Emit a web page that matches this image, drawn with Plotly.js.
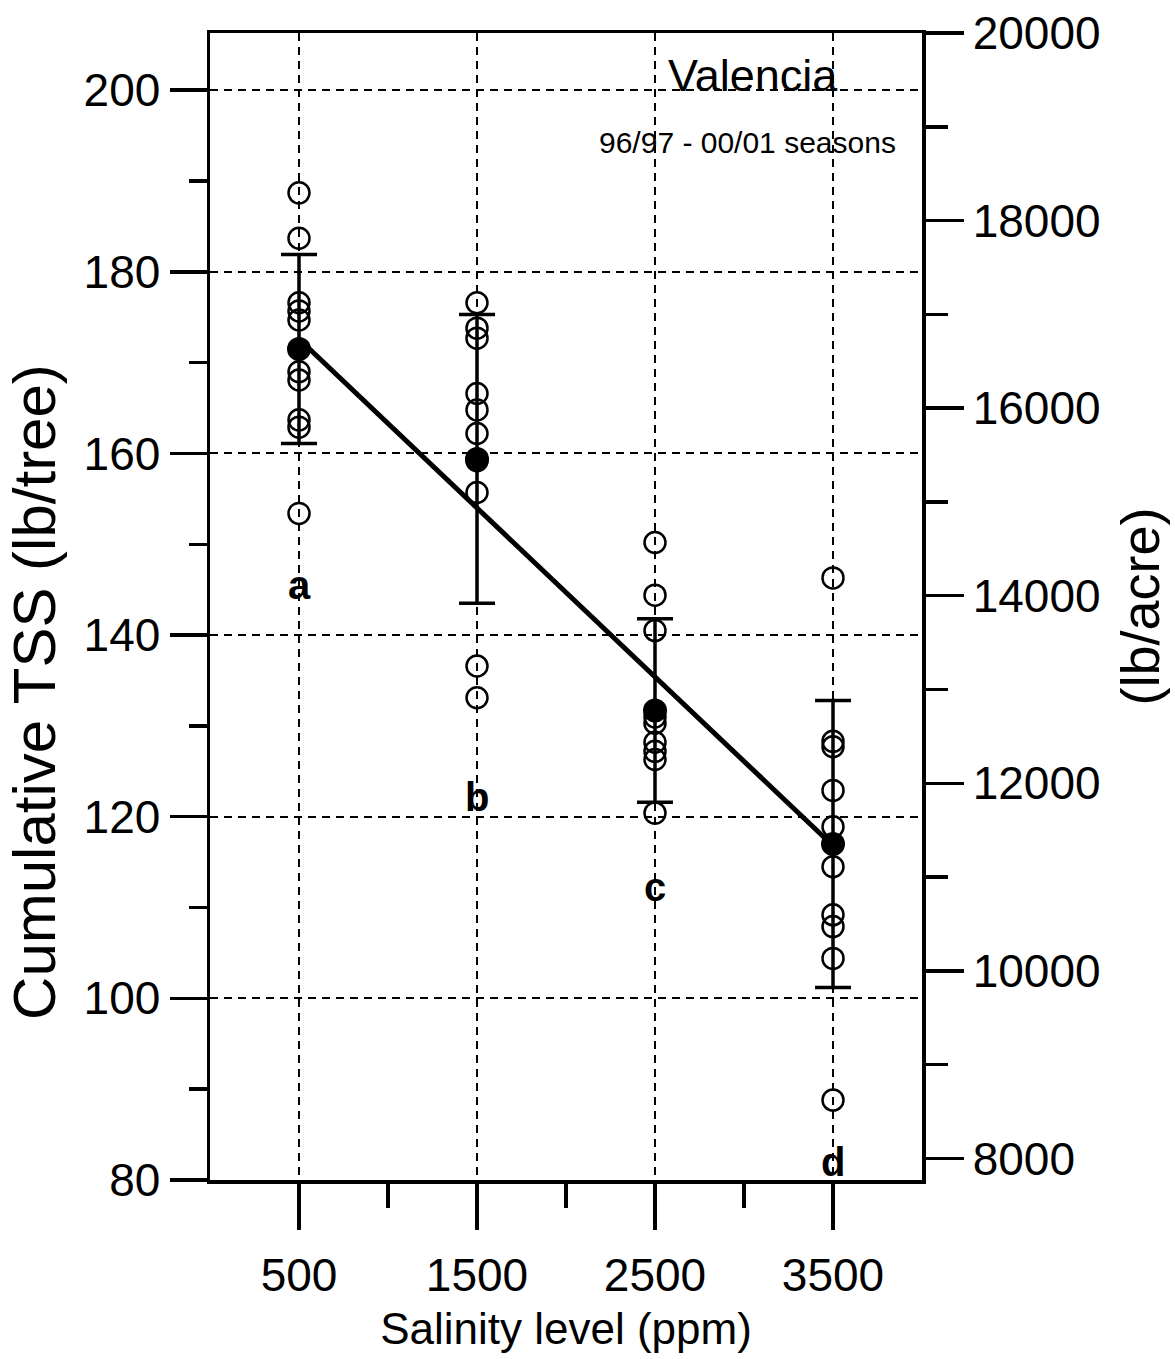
<!DOCTYPE html>
<html>
<head>
<meta charset="utf-8">
<script src="https://cdn.plot.ly/plotly-3.0.1.min.js"></script>
<style>html,body{margin:0;padding:0;background:#fff;}#chart{width:1175px;height:1359px;}</style>
</head>
<body>
<div id="chart"></div>
<script>
// Salinity levels (ppm)
const salinity = [500, 1500, 2500, 3500];
// Individual observations, cumulative TSS (lb/tree)
const obs500  = [188.7, 183.7, 176.6, 175.7, 174.7, 169.0, 168.1, 163.7, 162.9, 153.4];
const obs1500 = [176.6, 173.8, 172.7, 166.6, 164.8, 162.2, 159.2, 155.7, 136.6, 133.1];
const obs2500 = [150.2, 144.4, 140.5, 131.0, 130.3, 128.2, 127.2, 126.3, 120.4];
const obs3500 = [146.3, 128.3, 127.7, 122.9, 118.9, 114.5, 109.2, 107.9, 104.4, 88.8];
// Means and standard deviations
const means = [171.5, 159.4, 131.7, 117.0];
const sds   = [10.4, 15.9, 10.1, 15.8];
// Regression line end points
const lineX = [500, 3500];
const lineY = [172.6, 116.8];
// Significance letters
const letters = ['a', 'b', 'c', 'd'];
const letterY = [145.5, 122.2, 112.3, 82.0];
// Tick values
const xTicks = [500, 1500, 2500, 3500];
const xMinor = [1000, 2000, 3000];
const yTicks = [80, 100, 120, 140, 160, 180, 200];
const yMinor = [90, 110, 130, 150, 170, 190];
const y2Ticks = [8000, 10000, 12000, 14000, 16000, 18000, 20000];
const y2Minor = [9000, 11000, 13000, 15000, 17000, 19000];

const allObs = [obs500, obs1500, obs2500, obs3500];
const obsX = [], obsY = [];
allObs.forEach((arr, i) => arr.forEach(v => { obsX.push(salinity[i]); obsY.push(v); }));

const FONT = 'Liberation Sans, Arial, sans-serif';

const traces = [
  {
    x: obsX, y: obsY, type: 'scatter', mode: 'markers',
    marker: {symbol: 'circle-open', size: 21, color: '#000', line: {width: 2.5, color: '#000'}},
    hoverinfo: 'x+y', showlegend: false
  },
  {
    x: lineX, y: lineY, type: 'scatter', mode: 'lines',
    line: {color: '#000', width: 5}, showlegend: false
  },
  {
    x: salinity, y: means, type: 'scatter', mode: 'markers',
    marker: {symbol: 'circle', size: 24, color: '#000'},
    error_y: {type: 'data', array: sds, visible: true, color: '#000', thickness: 3.5, width: 18},
    showlegend: false
  },
  {
    // invisible trace on the right axis so it is drawn
    x: [salinity[0]], y: [8000], yaxis: 'y2', type: 'scatter', mode: 'markers',
    marker: {opacity: 0}, hoverinfo: 'skip', showlegend: false
  }
];

const annotations = letters.map((t, i) => ({
  x: salinity[i], y: letterY[i], xref: 'x', yref: 'y', text: t, showarrow: false,
  font: {family: FONT, size: 40, color: '#000', weight: 'bold'}
}));
annotations.push({
  x: 3051, y: 201.6, xref: 'x', yref: 'y', text: 'Valencia', showarrow: false,
  font: {family: FONT, size: 45, color: '#000'}
});
annotations.push({
  x: 3022, y: 194.2, xref: 'x', yref: 'y', text: '96/97 - 00/01 seasons', showarrow: false,
  font: {family: FONT, size: 30, color: '#000'}
});
// Left axis title placed explicitly to match the reference position
annotations.push({
  x: -0.2458, y: 0.4255, xref: 'paper', yref: 'paper', xanchor: 'center', yanchor: 'middle',
  text: 'Cumulative TSS (lb/tree)', textangle: -90, showarrow: false,
  font: {family: FONT, size: 60, color: '#000'}
});

const layout = {
  width: 1175, height: 1359,
  margin: {l: 210, r: 253, t: 33, b: 179, pad: 0},
  paper_bgcolor: '#fff', plot_bgcolor: '#fff',
  font: {family: FONT, color: '#000'},
  showlegend: false,
  xaxis: {
    range: [0, 4000], tickmode: 'array', tickvals: xTicks, ticktext: xTicks.map(String),
    ticks: 'outside', ticklen: 46, tickwidth: 3.5, tickcolor: '#000',
    showline: true, linewidth: 3.5, linecolor: '#000', mirror: true,
    showgrid: true, gridcolor: '#000', gridwidth: 2, griddash: '8px,6px',
    zeroline: false,
    tickfont: {family: FONT, size: 46, color: '#000'},
    ticklabelstandoff: 6,
    minor: {tickmode: 'array', tickvals: xMinor, ticks: 'outside', ticklen: 24, tickwidth: 3.5, tickcolor: '#000', showgrid: false},
    title: {text: 'Salinity level (ppm)', font: {family: FONT, size: 44, color: '#000'}, standoff: 14}
  },
  yaxis: {
    range: [80, 206.3], tickmode: 'array', tickvals: yTicks, ticktext: yTicks.map(String),
    ticks: 'outside', ticklen: 37, tickwidth: 3.5, tickcolor: '#000',
    showline: true, linewidth: 3.5, linecolor: '#000',
    showgrid: true, gridcolor: '#000', gridwidth: 2, griddash: '8px,6px',
    zeroline: false,
    tickfont: {family: FONT, size: 46, color: '#000'},
    minor: {tickmode: 'array', tickvals: yMinor, ticks: 'outside', ticklen: 18, tickwidth: 3.5, tickcolor: '#000', showgrid: false},
    title: {text: ''}
  },
  yaxis2: {
    overlaying: 'y', side: 'right', anchor: 'x',
    range: [7770, 20000], tickmode: 'array', tickvals: y2Ticks, ticktext: y2Ticks.map(String),
    ticks: 'outside', ticklen: 38, tickwidth: 3.5, tickcolor: '#000',
    showline: true, linewidth: 3.5, linecolor: '#000',
    showgrid: false, zeroline: false,
    tickfont: {family: FONT, size: 46, color: '#000'},
    minor: {tickmode: 'array', tickvals: y2Minor, ticks: 'outside', ticklen: 22, tickwidth: 3.5, tickcolor: '#000', showgrid: false},
    title: {text: '(lb/acre)', font: {family: FONT, size: 54, color: '#000'}, standoff: 22}
  },
  annotations: annotations
};

Plotly.newPlot('chart', traces, layout, {displayModeBar: false, staticPlot: true});
</script>
</body>
</html>
